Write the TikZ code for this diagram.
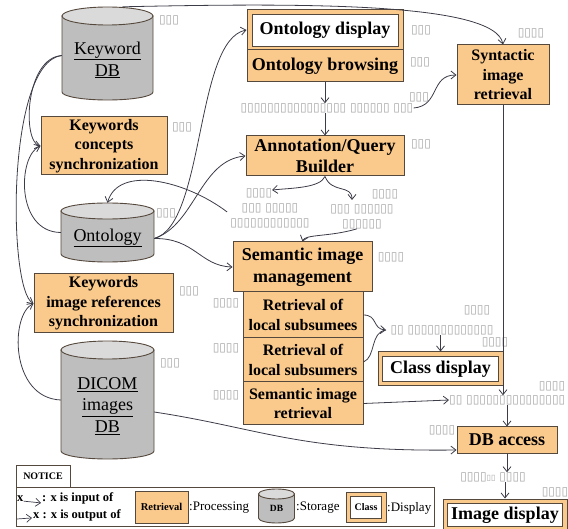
\documentclass[tikz,border=0pt]{standalone}
\usepackage{fontspec}
\setmainfont{Liberation Serif}
\newfontfamily\tofufont{DejaVu Sans}
\usetikzlibrary{arrows.meta}
\definecolor{boxfill}{RGB}{250,201,140}
\definecolor{boxline}{RGB}{85,72,60}
\definecolor{cylbody}{RGB}{190,190,190}
\definecolor{cyltop}{RGB}{218,218,218}
\definecolor{tofugray}{RGB}{165,165,165}
\definecolor{conncol}{RGB}{60,60,72}
\newcommand\dbcyl[6]{%
  \filldraw[fill=cylbody, draw=boxline, line width=0.9pt] (#1-#2,#3) -- (#1-#2,#4) arc[start angle=180,end angle=360,x radius=#2 pt,y radius=#6 pt] -- (#1+#2,#3) -- cycle;
  \filldraw[fill=cyltop, draw=boxline, line width=0.9pt] (#1,#3) ellipse[x radius=#2 pt, y radius=#5 pt];
}
\tikzset{
  proc/.style={draw=boxline, fill=boxfill, line width=1pt, inner sep=0pt, align=center, font=\bfseries\fontsize{16}{19.5}\selectfont},
  procbig/.style={proc, font=\bfseries\fontsize{18}{21.5}\selectfont},
  dispframe/.style={draw=boxline, fill=boxfill, line width=1pt, inner sep=0pt},
  dispin/.style={draw=boxline, fill=white, line width=0.8pt, inner sep=0pt, font=\bfseries\fontsize{18}{21.5}\selectfont},
  cylbox/.style={inner sep=0pt},
  cyltext/.style={inner sep=0pt, align=center, font=\fontsize{18}{22}\selectfont},
  tofu/.style={font=\tofufont\fontsize{12}{15}\selectfont, text=tofugray, inner sep=0pt, align=center},
  conn/.style={draw=conncol, line width=0.8pt, -{Straight Barb[length=5pt,width=8pt]}},
  legtext/.style={inner sep=0pt, font=\bfseries\fontsize{12.5}{14}\selectfont},
  legreg/.style={inner sep=0pt, font=\fontsize{13}{14}\selectfont},
}
\begin{document}
\begin{tikzpicture}[x=1pt,y=-1pt]
\useasboundingbox (0,0) rectangle (568,529);

% ---------- storage cylinders ----------
\dbcyl{107.5}{45.5}{16}{92}{9}{8}
\node[cylbox, minimum width=91pt, minimum height=93pt] (kdb) at (107.5,53.5) {};
\node[cyltext] (kdbt) at (107.5,60) {\underline{Keyword}\\\underline{DB}};

\dbcyl{107.5}{46.5}{211}{254}{8}{8}
\node[cylbox, minimum width=93pt, minimum height=59pt] (ont) at (107.5,232.5) {};
\node[cyltext] (ontt) at (107.5,238) {\underline{Ontology}};

\dbcyl{107.5}{46.5}{350}{451}{9}{8}
\node[cylbox, minimum width=93pt, minimum height=118pt] (dic) at (107.5,400) {};
\node[cyltext, font=\fontsize{18}{21.5}\selectfont] (dict) at (107.5,406) {\underline{DICOM}\\\underline{images}\\\underline{DB}};

% ---------- processing boxes ----------
\node[proc, minimum width=126pt, minimum height=58pt] (kcs) at (104,146) {Keywords\\concepts\\synchronization};
\node[proc, minimum width=139pt, minimum height=59pt] (kirs) at (103.5,303.5) {Keywords\\image references\\synchronization};

\node[dispframe, minimum width=156pt, minimum height=40pt] (od) at (325,30) {};
\node[dispin, minimum width=146pt, minimum height=32pt] (odt) at (325,30) {Ontology display};
\node[procbig, minimum width=156pt, minimum height=32pt] (ob) at (325,66) {Ontology browsing};

\node[procbig, minimum width=158pt, minimum height=40pt] (aqb) at (325,156) {Annotation/Query\\Builder};
\node[proc, minimum width=92pt, minimum height=60pt] (syn) at (503,75) {Syntactic\\image\\retrieval};

\node[procbig, minimum width=139pt, minimum height=50pt] (sim) at (302.5,267) {Semantic image\\management};
\node[proc, minimum width=120pt, minimum height=46pt] (rsee) at (303,315) {Retrieval of\\local subsumees};
\node[proc, minimum width=120pt, minimum height=44pt] (rser) at (303,360) {Retrieval of\\local subsumers};
\node[proc, minimum width=120pt, minimum height=43pt] (sir) at (303,403.5) {Semantic image\\retrieval};

\node[dispframe, minimum width=125pt, minimum height=34pt] (cd) at (440.5,369) {};
\node[dispin, minimum width=116pt, minimum height=25pt] (cdt) at (440.5,369) {Class display};

\node[procbig, minimum width=100pt, minimum height=26pt] (dba) at (507,440) {DB access};

\node[dispframe, minimum width=124pt, minimum height=32pt] (imd) at (505,515) {};
\node[dispin, minimum width=115pt, minimum height=23pt] (imdt) at (505,515) {Image display};

% ---------- tofu labels ----------
\node[tofu] (t1) at (169,20) {▯▯▯};
\node[tofu] (t2) at (182,127) {▯▯▯};
\node[tofu] (t3) at (166,213) {▯▯▯};
\node[tofu] (t4) at (189,291) {▯▯▯};
\node[tofu] (t5) at (170,363) {▯▯▯};
\node[tofu] (t6) at (421,30) {▯▯▯};
\node[tofu] (t7) at (420,62) {▯▯▯};
\node[tofu] (t8) at (327,108) {▯▯▯▯▯▯▯▯▯▯▯▯▯▯▯▯ ▯▯▯▯▯▯ ▯▯▯};
\node[tofu] (t9) at (419,97) {▯▯▯};
\node[tofu] (t10) at (421,144) {▯▯▯};
\node[tofu] (t11) at (531,33) {▯▯▯▯};
\node[tofu] (t12) at (270,208) {▯▯▯▯\hspace*{22pt}\\▯▯▯ ▯▯▯▯▯\\▯▯▯▯▯▯▯▯▯▯▯▯};
\node[tofu] (t13) at (362,209) {\hspace*{46pt}▯▯▯▯\\▯▯▯ ▯▯▯▯▯▯\\▯▯▯▯▯▯};
\node[tofu] (t14) at (391,257) {▯▯▯▯};
\node[tofu] (t15) at (226,303) {▯▯▯▯};
\node[tofu] (t16) at (226,348) {▯▯▯▯};
\node[tofu] (t17) at (226,395) {▯▯▯▯};
\node[tofu] (t18) at (477,310) {▯▯▯▯};
\node[tofu] (t19) at (442,330) {▯▯ ▯▯▯▯▯▯▯▯▯▯▯▯▯};
\node[tofu] (t20) at (495,342) {▯▯▯▯};
\node[tofu] (t21) at (552,386) {▯▯▯▯};
\node[tofu, anchor=west] (t22) at (449,400) {▯▯ ▯▯▯▯▯▯▯▯▯▯▯▯▯▯▯};
\node[tofu] (t23) at (442,430) {▯▯▯▯};
\node[tofu] (t24) at (493,477) {▯▯▯▯{\fontsize{8}{8}\selectfont ▯▯} ▯▯▯▯};
\node[tofu] (t25) at (555,492) {▯▯▯▯};

% ---------- connectors ----------
\draw[conn] ([xshift=15pt]kdb.north) .. controls (300,3) and (495,2) .. (syn.north);
\draw[conn] ([yshift=-2pt]kdb.west) .. controls (25,58) and (22,142) .. (kcs.west);
\draw[conn] ([yshift=-2pt]kdb.west) .. controls (6,62) and (8,290) .. (kirs.west);
\draw[conn] (ont.west) .. controls (15,232) and (18,155) .. (kcs.west);
\draw[conn] (dic.west) .. controls (10,398) and (10,315) .. (kirs.west);

\draw[conn] ([yshift=-6pt]ont.east) .. controls (205,225) and (195,40) .. (od.west);
\draw[conn] ([yshift=-6pt]ont.east) .. controls (195,225) and (200,160) .. (aqb.west);
\draw[conn] ([yshift=-6pt]ont.east) .. controls (195,238) and (200,266) .. (sim.west);
\draw[conn] ([xshift=-3pt,yshift=-4pt]t12.west) .. controls (185,180) and (118,165) .. (ont.north);

\draw[conn] (ob.south) -- (t8.north -| ob.south);
\draw[conn] (t8.south -| aqb.north) -- (aqb.north);
\draw[conn] (t8.east) .. controls (440,106) and (430,75) .. (syn.west);

\draw[conn] (aqb.south) .. controls (320,188) and (292,188) .. (272,190);
\draw[conn] (aqb.south) .. controls (332,194) and (352,184) .. (352,200);
\draw[conn] ([xshift=-5pt]t13.south) .. controls (330,237) and (305,234) .. (sim.north);

\draw[conn] (rsee.east) .. controls (378,315) and (372,329) .. (386,330);
\draw[draw=conncol, line width=0.8pt] ([yshift=-2pt]rser.east) .. controls (376,357) and (370,332) .. (386,330);
\draw[conn] (t19.south -| cd.north) -- (cd.north);

\draw[conn] (syn.south) -- (t22.north -| syn.south);
\draw[conn] (sir.east) .. controls (400,402) .. (t22.west);
\draw[conn] (t22.south -| dba.north) -- (dba.north);
\draw[conn] ([yshift=-12pt]dic.east) .. controls (260,428) and (300,452) .. ([yshift=-10pt]dba.west);
\draw[conn] (dba.south) -- (t24.north -| dba.south);
\draw[conn] (t24.south -| imd.north) -- (imd.north);

% ---------- legend ----------
\node[draw=boxline, line width=1pt, minimum width=418pt, minimum height=39pt, inner sep=0pt] (leg) at (225,506.5) {};
\node[draw=boxline, line width=1pt, minimum width=54pt, minimum height=22pt, inner sep=0pt, font=\bfseries\fontsize{10}{11}\selectfont] (notice) at (43,476) {NOTICE};
\node[legtext, anchor=base west] (lx1) at (17,501) {x};
\node[legtext, anchor=base west] (lin) at (42,501) {: x is input of};
\draw[conn, line width=0.7pt] ([yshift=-3pt]lx1.east) -- ([xshift=-1pt,yshift=-5pt]lin.west);
\coordinate (lx2s) at (17,519);
\node[legtext, anchor=base west] (lout) at (33,518) {x : x is output of};
\draw[conn, line width=0.7pt] (lx2s) -- ([xshift=-1pt,yshift=-3pt]lout.west);
\node[proc, minimum width=53pt, minimum height=32pt, font=\bfseries\fontsize{10.5}{12}\selectfont] (lret) at (161.5,507) {Retrieval};
\node[legreg, anchor=west] (lproc) at (189,508) {:Processing};
\dbcyl{276.5}{18}{494}{518}{5}{5}
\node[cylbox, minimum width=36pt, minimum height=34pt] (ldb) at (276.5,506) {};
\node[inner sep=0pt, font=\bfseries\fontsize{9.5}{10}\selectfont] (ldbt) at (276.5,508) {DB};
\node[legreg, anchor=west] (lsto) at (296,508) {:Storage};
\node[dispframe, minimum width=40pt, minimum height=30pt] (lcl) at (366,507.5) {};
\node[dispin, minimum width=31pt, minimum height=22pt, font=\bfseries\fontsize{10}{11}\selectfont] (lclt) at (366,507.5) {Class};
\node[legreg, anchor=west] (ldis) at (387,508) {:Display};
\end{tikzpicture}
\end{document}
